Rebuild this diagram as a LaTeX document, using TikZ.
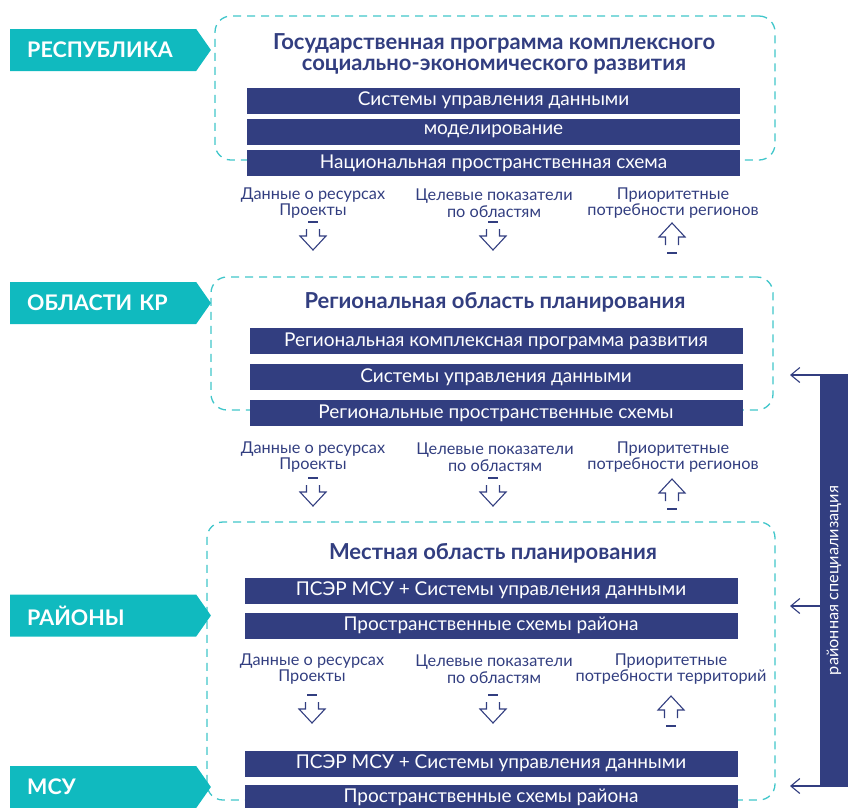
\documentclass[tikz,border=0pt]{standalone}
\usepackage{fontspec}
\setmainfont{Lato}
\usetikzlibrary{shapes.symbols,arrows.meta}

\definecolor{navy}{RGB}{50,62,128}
\definecolor{tabteal}{RGB}{16,186,191}
\definecolor{dashteal}{RGB}{64,198,202}

\tikzset{
  bar/.style={fill=navy, text=white, minimum width=493pt, minimum height=26pt, inner sep=0pt,
    font=\fontsize{19}{22}\selectfont},
  level/.style={draw=dashteal, dash pattern=on 8pt off 6pt, line width=1.3pt, rounded corners=16pt,
    inner sep=0pt},
  leveltitle/.style={text=navy, align=center, font=\bfseries\fontsize{22}{21}\selectfont},
  tab/.style={shape=signal, signal to=east, signal pointer angle=110, fill=tabteal, text=white,
    minimum height=42pt, text width=152pt, inner xsep=17pt, inner ysep=0pt, align=left,
    font=\bfseries\fontsize{21.5}{24}\selectfont},
  flow/.style={text=navy, align=center, inner sep=0pt, font=\fontsize{16.3}{16.5}\selectfont},
  blockarrow/.style={draw=navy, line width=1.1pt},
  spec/.style={fill=navy, text=white, rotate=90, minimum width=413pt, minimum height=28pt,
    inner sep=0pt, font=\fontsize{16.3}{19}\selectfont},
  specarrow/.style={draw=navy, line width=1.1pt, -{Straight Barb[length=9pt,width=15pt]}}
}

\begin{document}
\begin{tikzpicture}[x=1pt, y=-1pt]
  \useasboundingbox (0,0) rectangle (848,807);

  % dashed frames of the three levels
  \node[level, minimum width=560pt, minimum height=144pt] (stateframe) at (495,88) {};
  \node[level, minimum width=562pt, minimum height=133pt] (regionframe) at (492,343.5) {};
  \node[level, minimum width=568pt, minimum height=278pt] (localframe) at (491,661) {};

  % level tabs
  \node[tab, anchor=west] (republic) at (10,50) {РЕСПУБЛИКА};
  \node[tab, anchor=west] (oblasts) at (10,303) {ОБЛАСТИ КР};
  \node[tab, anchor=west] (rayons) at (10,615.5) {РАЙОНЫ};
  \node[tab, anchor=west] (msu) at (10,787) {МСУ};

  % republic level
  \node[leveltitle] (statetitle) at (494,54) {Государственная программа комплексного\\социально-экономического развития};
  \node[bar] (statedata) at (493.5,100.5) {Системы управления данными};
  \node[bar] (statemodel) at (493.5,131.5) {моделирование};
  \node[bar] (statescheme) at (493.5,163) {Национальная пространственная схема};

  \node[flow] (stateres) at (313,203) {Данные о ресурсах\\Проекты};
  \node[flow] (statetarget) at (494,203) {Целевые показатели\\по областям};
  \node[flow] (stateneeds) at (673,203) {Приоритетные\\потребности регионов};

  % oblast level
  \node[leveltitle] (regiontitle) at (495,302) {Региональная область планирования};
  \node[bar] (regionprog) at (496,341) {Региональная комплексная программа развития};
  \node[bar] (regiondata) at (496,377) {Системы управления данными};
  \node[bar] (regionscheme) at (496,413) {Региональные пространственные схемы};

  \node[flow] (regionres) at (313,457) {Данные о ресурсах\\Проекты};
  \node[flow] (regiontarget) at (495,457) {Целевые показатели\\по областям};
  \node[flow] (regionneeds) at (673,457) {Приоритетные\\потребности регионов};

  % rayon level
  \node[leveltitle] (localtitle) at (493,553) {Местная область планирования};
  \node[bar] (localdata) at (491,590.5) {ПСЭР МСУ + Системы управления данными};
  \node[bar] (localscheme) at (491,625.5) {Пространственные схемы района};

  \node[flow] (localres) at (312,669) {Данные о ресурсах\\Проекты};
  \node[flow] (localtarget) at (494,669) {Целевые показатели\\по областям};
  \node[flow] (localneeds) at (671,669) {Приоритетные\\потребности территорий};

  % msu level
  \node[bar] (msudata) at (491,763.5) {ПСЭР МСУ + Системы управления данными};
  \node[bar] (msuscheme) at (491,797.5) {Пространственные схемы района};

  % hollow block arrows between the levels
  \foreach \y/\cb/\cc/\cu in {222/313/493/672, 478/313/493/672, 695/312/493/671} {
    \foreach \cx in {\cb,\cc} {
      \draw[blockarrow] (\cx-5,\y) -- (\cx+5,\y);
      \draw[blockarrow] (\cx-6.5,\y+7) -- (\cx-6.5,\y+14) -- (\cx-13,\y+14) -- (\cx,\y+28)
        -- (\cx+13,\y+14) -- (\cx+6.5,\y+14) -- (\cx+6.5,\y+7);
    }
    \draw[blockarrow] (\cu-6.5,\y+23) -- (\cu-6.5,\y+15) -- (\cu-13,\y+15) -- (\cu,\y+1)
      -- (\cu+13,\y+15) -- (\cu+6.5,\y+15) -- (\cu+6.5,\y+23);
    \draw[blockarrow] (\cu-5,\y+31) -- (\cu+5,\y+31);
  }

  % district specialisation
  \node[spec] (spec) at (834,580.5) {районная специализация};
  \coordinate (toregion) at (790,375);
  \coordinate (tolocal) at (790,606);
  \coordinate (tomsu) at (790,786);
  \draw[specarrow] (spec.north |- toregion) -- (toregion);
  \draw[specarrow] (spec.north |- tolocal) -- (tolocal);
  \draw[specarrow] (spec.north |- tomsu) -- (tomsu);
\end{tikzpicture}
\end{document}
